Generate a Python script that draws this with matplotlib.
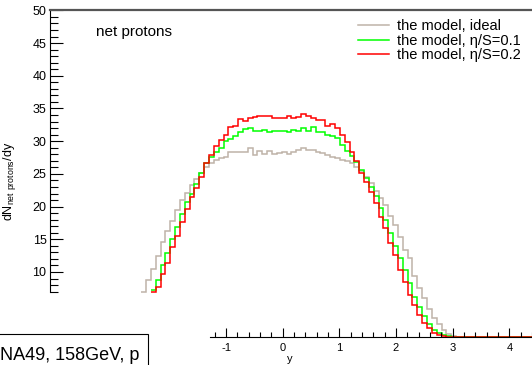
import numpy as np
import matplotlib
matplotlib.use("Agg")
import matplotlib.pyplot as plt
from matplotlib.patches import Rectangle

plt.rcParams['font.family'] = ['Liberation Sans', 'DejaVu Sans']
plt.rcParams['axes.unicode_minus'] = False
plt.rcParams['mathtext.default'] = 'regular'

nan = float('nan')

# histogram binning (rapidity)
bin_width = 0.0855
first_edge = -2.497
n_bins = 81

# dN/dy of net protons
ideal = [6.9, 8.8, 10.4, 12.4, 14.6, 16.3, 17.8, 19.5, 21.0, 22.1,
         23.3, 24.2, 25.1, 26.0, 26.6, 27.1, 27.5, 27.6, 28.4, 28.4,
         28.3, 28.4, 28.9, 27.9, 28.5, 28.1, 28.5, 28.0, 28.2, 28.3,
         28.1, 28.4, 28.7, 28.9, 28.6, 28.7, 28.4, 28.2, 27.9, 27.6,
         27.4, 27.1, 26.9, 26.6, 26.0, 25.4, 24.6, 23.6, 22.4, 21.3,
         20.3, 18.5, 17.2, 15.4, 13.4, 12.1, 9.4, 7.5, 6.0, 4.3,
         2.9, 2.1, 1.1, 0.5, 0.25, 0.1]
eta01 = [nan, nan, 7.25, 8.8, 11.1, 12.9, 15.0, 16.9, 18.9, 20.7,
         22.0, 23.5, 25.2, 26.6, 27.6, 28.3, 29.0, 30.0, 30.3, 30.8,
         31.4, 31.9, 32.0, 31.6, 31.6, 31.7, 31.4, 31.6, 31.6, 31.6,
         31.4, 31.7, 31.5, 32.0, 31.5, 32.1, 31.4, 31.4, 31.0, 30.8,
         30.5, 29.4, 28.5, 27.8, 26.8, 25.6, 24.3, 23.0, 21.6, 19.8,
         18.0, 15.9, 14.0, 12.2, 10.3, 8.3, 6.2, 4.7, 3.2, 2.0,
         1.2, 0.6, 0.3, 0.15]
eta02 = [nan, nan, 6.9, 7.65, 9.7, 11.4, 13.8, 15.5, 17.7, 19.6,
         21.4, 22.8, 24.5, 26.6, 27.9, 29.2, 30.2, 30.9, 32.1, 32.3,
         33.4, 33.1, 33.6, 33.65, 33.9, 33.9, 33.9, 33.6, 33.6, 33.5,
         33.9, 33.5, 33.65, 34.1, 33.9, 33.6, 33.3, 33.3, 32.3, 32.6,
         32.0, 30.95, 29.9, 28.3, 26.9, 25.1, 23.7, 22.3, 20.6, 18.45,
         16.7, 14.5, 12.6, 10.3, 8.4, 6.5, 4.95, 3.4, 2.15, 1.4,
         0.6, 0.36, 0.2, 0.1]

labels = ["the model, ideal", "the model, \u03b7/S=0.1", "the model, \u03b7/S=0.2"]
colors = ["#bfb3a8", "#00ff00", "#ff0000"]

yticks = [10, 15, 20, 25, 30, 35, 40, 45, 50]
xticks = [-1, 0, 1, 2, 3, 4]

W, H = 532, 365
fig = plt.figure(figsize=(W / 100, H / 100), dpi=100)
ax = fig.add_axes([0, 0, 1, 1])

# pixel calibration of the frame
x0_px, x_scale = 282.7, 56.67
y0_px, y_scale = 337.4, 6.54
ax.set_xlim(-x0_px / x_scale, (W - x0_px) / x_scale)
ax.set_ylim(-(H - y0_px) / y_scale, y0_px / y_scale)
x_left = (50 - x0_px) / x_scale
x_axis_start = (210 - x0_px) / x_scale
y_min = 6.9

edges = first_edge + bin_width * np.arange(n_bins + 1)
for vals, lab, col in zip([ideal, eta01, eta02], labels, colors):
    v = np.array(vals + [0.0] * (n_bins - len(vals)))
    ax.stairs(v, edges, baseline=None, color=col, lw=1.1, label=lab)

ax.spines['right'].set_visible(False)
ax.spines['left'].set_position(('data', x_left))
ax.spines['left'].set_bounds(y_min, 50)
ax.spines['left'].set_linewidth(0.8)
ax.spines['bottom'].set_position(('data', 0))
ax.spines['bottom'].set_bounds(x_axis_start, ax.get_xlim()[1])
ax.spines['bottom'].set_linewidth(0.8)
ax.spines['top'].set_position(('data', 50))
ax.spines['top'].set_bounds(x_left, ax.get_xlim()[1])
ax.spines['top'].set_color('#555555')
ax.spines['top'].set_linewidth(1.6)

ax.yaxis.set_ticks_position('left')
ax.xaxis.set_ticks_position('bottom')
ax.set_yticks(yticks)
ax.set_yticklabels([str(t) for t in yticks])
ax.set_yticks(np.arange(7, 51, 1), minor=True)
ax.set_xticks(xticks)
ax.set_xticklabels([str(t) for t in xticks])
ax.set_xticks(np.round(np.arange(-1.2, 4.41, 0.2), 1), minor=True)
ax.tick_params(axis='y', which='major', direction='in', length=9.5, width=0.8, labelsize=9, pad=2.5)
ax.tick_params(axis='y', which='minor', direction='in', length=5.5, width=0.8)
ax.tick_params(axis='x', which='major', direction='in', length=6.5, width=0.8, labelsize=8, pad=4)
ax.tick_params(axis='x', which='minor', direction='in', length=3.5, width=0.8)

ax.legend(loc='upper left', bbox_to_anchor=(358 / W, 1 - 19 / H), bbox_transform=fig.transFigure,
          frameon=False, fontsize=10.5, handlelength=2.1, handletextpad=0.55,
          borderpad=0, borderaxespad=0, labelspacing=0.05)

fig.text(96 / W, 1 - 32 / H, "net protons", va='center', ha='left', fontsize=11)
fig.text(10 / W, 1 - 181 / H, r"dN$_{net\ protons}$/dy", rotation=90, va='center', ha='center', fontsize=9)
fig.text(290 / W, 1 - 359 / H, "y", va='center', ha='center', fontsize=8)

fig.add_artist(Rectangle((-2 / W, -5 / H), 150 / W, (365 - 334 + 5) / H, transform=fig.transFigure,
                         facecolor='white', edgecolor='black', lw=0.8))
fig.text(0 / W, 1 - 355 / H, "NA49, 158GeV, p", va='center', ha='left', fontsize=13)

fig.savefig("out.png", dpi=100)
